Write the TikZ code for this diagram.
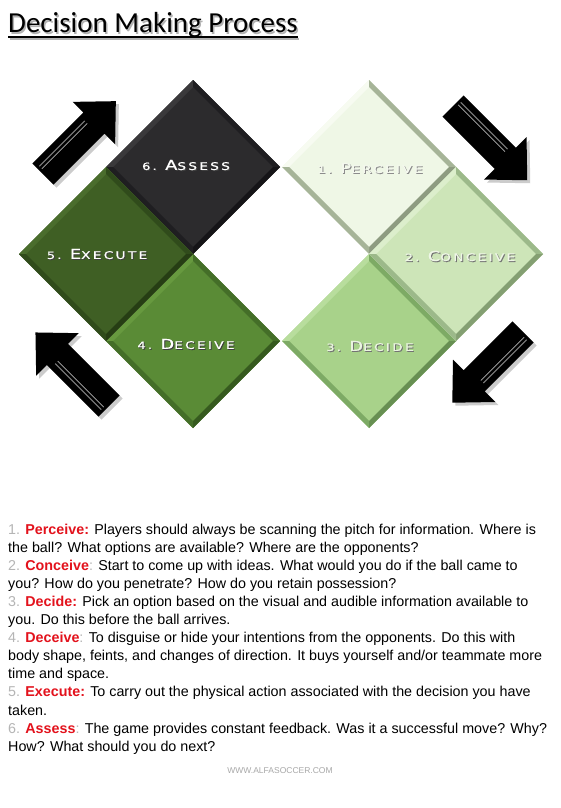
\documentclass[tikz,border=0pt]{standalone}
\usepackage{fontspec}
\setmainfont{Liberation Sans}
\newfontfamily\titlefont{Carlito}
\newfontfamily\labfont[LetterSpace=22,FakeStretch=1.3,FakeBold=0.7]{DejaVu Sans}
\usetikzlibrary{shapes.geometric,calc}
\definecolor{numgray}{HTML}{B5B5B5}
\definecolor{kred}{HTML}{E3121C}
\definecolor{footgray}{HTML}{A8A8A8}
\definecolor{aF}{HTML}{EFF7E6}\definecolor{aL}{HTML}{F7FBF1}\definecolor{aE}{HTML}{A6B498}\definecolor{aD}{HTML}{8E9C81}
\definecolor{bF}{HTML}{CDE5B8}\definecolor{bL}{HTML}{DCEECC}\definecolor{bE}{HTML}{9CB98A}\definecolor{bD}{HTML}{849F72}
\definecolor{cF}{HTML}{A8D28A}\definecolor{cL}{HTML}{B8DD9D}\definecolor{cE}{HTML}{7DAA65}\definecolor{cD}{HTML}{678F52}
\definecolor{dF}{HTML}{5A8B36}\definecolor{dL}{HTML}{67993F}\definecolor{dE}{HTML}{446E28}\definecolor{dD}{HTML}{365A1F}
\definecolor{eF}{HTML}{3F5F24}\definecolor{eL}{HTML}{4A6D2D}\definecolor{eE}{HTML}{304B1B}\definecolor{eD}{HTML}{263D14}
\definecolor{fF}{HTML}{2C2B2D}\definecolor{fL}{HTML}{3A393B}\definecolor{fE}{HTML}{1F1E21}\definecolor{fD}{HTML}{151417}
\definecolor{lab1}{HTML}{F4F8EE}\definecolor{lab2}{HTML}{EEF6E6}\definecolor{lab3}{HTML}{EAF4E0}
\newcommand\SCap[2]{{\fontsize{13.7}{14}\selectfont #1}{\fontsize{10.5}{10}\selectfont #2}}
\newcommand\Num[1]{\textcolor{numgray}{#1}}
\newcommand\Key[1]{\textcolor{kred}{\bfseries #1}}
\newcommand\Dmd[5]{% name, x, y, colour prefix
  \node[dmdbox, fill=#4F] (#1) at (#2,#3) {};
  \coordinate (#1n) at ($(#1.north)+(0,7)$);
  \coordinate (#1e) at ($(#1.east)+(-7,0)$);
  \coordinate (#1s) at ($(#1.south)+(0,-7)$);
  \coordinate (#1w) at ($(#1.west)+(7,0)$);
  \fill[#4L] (#1.west) -- (#1.north) -- (#1n) -- (#1w) -- cycle;
  \fill[#4E] (#1.north) -- (#1.east) -- (#1e) -- (#1n) -- cycle;
  \fill[#4D] (#1.east) -- (#1.south) -- (#1s) -- (#1e) -- cycle;
  \fill[#4E] (#1.south) -- (#1.west) -- (#1w) -- (#1s) -- cycle;
}
\newcommand\ArrowShape[1]{%
  (0,-15) -- ({#1-31},-15) -- ({#1-31},-30) -- (#1,0) -- ({#1-31},30) -- ({#1-31},15) -- (0,15) -- cycle}
\newcommand\BigArrow[4]{% tail x, tail y, angle, length
  \begin{scope}[shift={(#1+3,#2+3)},rotate=#3]
    \fill[black!20] \ArrowShape{#4};
  \end{scope}
  \begin{scope}[shift={(#1,#2)},rotate=#3]
    \fill[black] \ArrowShape{#4};
    \draw[black!50,line width=1.1] (3,-8) -- ({#4-36},-8);
    \draw[black!30,line width=0.7] (3,-4.5) -- ({#4-36},-4.5);
  \end{scope}
}
\begin{document}
\begin{tikzpicture}[x=1pt,y=-1pt,
  dmdbox/.style={diamond,aspect=1,minimum width=174pt,minimum height=174pt,inner sep=0pt,outer sep=0pt},
  lab/.style={font=\labfont,text=white,inner sep=0pt},
  labsh/.style={font=\labfont,text=black!75,inner sep=0pt},
  body/.style={anchor=base west,inner sep=0pt,font=\fontsize{14.3}{18}\selectfont}]
\useasboundingbox (0,0) rectangle (560,808);
\fill[white] (0,0) rectangle (560,808);
% title
\node[anchor=base west,inner sep=0pt,font=\titlefont\fontsize{29}{30}\selectfont,text=black!30] (titlesh) at (9.5,34.5) {Decision Making Process};
\draw[black!30,line width=2] ($(titlesh.base west)+(0,4.5)$) -- ($(titlesh.base east)+(0,4.5)$);
\node[anchor=base west,inner sep=0pt,font=\titlefont\fontsize{29}{30}\selectfont] (title) at (8,33) {Decision Making Process};
\draw[line width=2] ($(title.base west)+(0,4.5)$) -- ($(title.base east)+(0,4.5)$);
% arrows
\BigArrow{43}{174}{45}{103}
\BigArrow{453}{106}{-45}{105}
\BigArrow{109}{406}{135}{104}
\BigArrow{523}{332}{-135}{100}
% diamonds
\Dmd{d1}{369}{167}{a}{}
\Dmd{d3}{369}{341}{c}{}
\Dmd{d2}{456}{254}{b}{}
\Dmd{d6}{193}{167}{f}{}
\Dmd{d4}{193}{341}{d}{}
\Dmd{d5}{106}{254}{e}{}
% labels
\node[labsh] (l6s) at (187,166) {6. \SCap{A}{SSESS}};
\node[lab] (l6) at (186,165) {6. \SCap{A}{SSESS}};
\node[labsh] (l5s) at (98,255) {5. \SCap{E}{XECUTE}};
\node[lab] (l5) at (97,254) {5. \SCap{E}{XECUTE}};
\node[labsh] (l4s) at (187,345) {4. \SCap{D}{ECEIVE}};
\node[lab] (l4) at (186,344) {4. \SCap{D}{ECEIVE}};
\node[labsh,text=black!45] (l1s) at (371,169) {1. \SCap{P}{ERCEIVE}};
\node[lab,text=lab1] (l1) at (370,168) {1. \SCap{P}{ERCEIVE}};
\node[labsh,text=black!55] (l2s) at (461,257) {2. \SCap{C}{ONCEIVE}};
\node[lab,text=lab2] (l2) at (460,256) {2. \SCap{C}{ONCEIVE}};
\node[labsh,text=black!55] (l3s) at (371,347) {3. \SCap{D}{ECIDE}};
\node[lab,text=lab3] (l3) at (370,346) {3. \SCap{D}{ECIDE}};
% body text
\node[body] (t1) at (8,534) {\Num{1.} \Key{Perceive:} Players should always be scanning the pitch for information. Where is};
\node[body] (t2) at (8,552.1) {the ball? What options are available? Where are the opponents?};
\node[body] (t3) at (8,570.2) {\Num{2.} \Key{Conceive}\Num{:} Start to come up with ideas. What would you do if the ball came to};
\node[body] (t4) at (8,588.3) {you? How do you penetrate? How do you retain possession?};
\node[body] (t5) at (8,606.4) {\Num{3.} \Key{Decide:} Pick an option based on the visual and audible information available to};
\node[body] (t6) at (8,624.5) {you. Do this before the ball arrives.};
\node[body] (t7) at (8,642.6) {\Num{4.} \Key{Deceive}\Num{:} To disguise or hide your intentions from the opponents. Do this with};
\node[body] (t8) at (8,660.7) {body shape, feints, and changes of direction. It buys yourself and/or teammate more};
\node[body] (t9) at (8,678.8) {time and space.};
\node[body] (t10) at (8,696.9) {\Num{5.} \Key{Execute:} To carry out the physical action associated with the decision you have};
\node[body] (t11) at (8,715) {taken.};
\node[body] (t12) at (8,733.1) {\Num{6.} \Key{Assess}\Num{:} The game provides constant feedback. Was it a successful move? Why?};
\node[body] (t13) at (8,751.2) {How? What should you do next?};
% footer
\node[inner sep=0pt,font=\fontsize{8.5}{10}\selectfont,text=footgray] (foot) at (280,771) {WWW.ALFASOCCER.COM};
\end{tikzpicture}
\end{document}
